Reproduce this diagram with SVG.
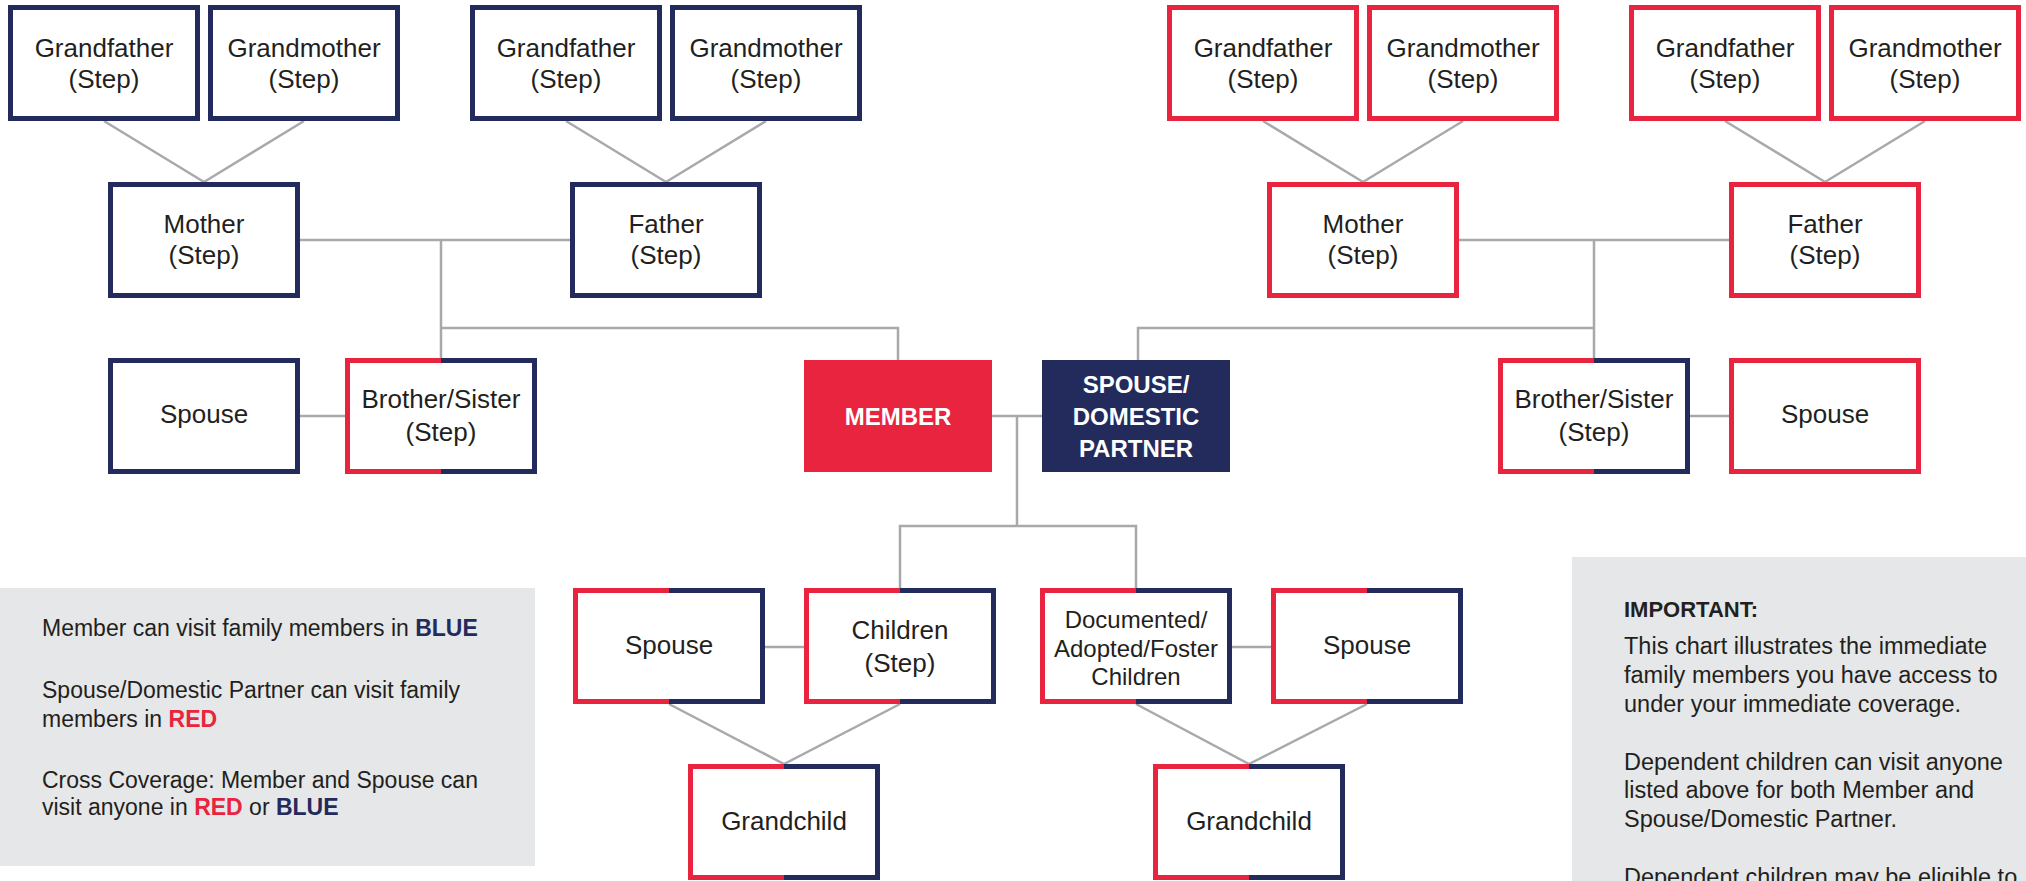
<svg xmlns="http://www.w3.org/2000/svg" width="2026" height="881" viewBox="0 0 2026 881">
<defs>
<linearGradient id="split" x1="0" y1="0" x2="1" y2="0">
<stop offset="0.5" stop-color="#E8243F"/>
<stop offset="0.5" stop-color="#232A5C"/>
</linearGradient>
<style>
.n rect{fill:#fff;stroke-width:5}
.b rect{stroke:#232A5C}
.r rect{stroke:#E8243F}
.s rect{stroke:url(#split)}
text{font-family:"Liberation Sans",Arial,sans-serif;fill:#231F20}
.n text{font-size:26px;text-anchor:middle}
.n text.sm{font-size:24px}
.f text{font-size:24px;font-weight:bold;fill:#fff;text-anchor:middle}
.lg text{font-size:23px}
#legend-right text{font-size:23.5px}
.bl{fill:#232A5C;font-weight:bold}
.rd{fill:#E8243F;font-weight:bold}
#connectors{stroke:#A7A9AC;stroke-width:2.5;fill:none}
</style>
</defs>
<rect width="2026" height="881" fill="#fff"/>
<g id="legend-left" class="lg">
<rect x="0" y="588" width="535" height="278" fill="#E6E7E8"/>
<text x="42" y="636">Member can visit family members in <tspan class="bl">BLUE</tspan></text>
<text x="42" y="698">Spouse/Domestic Partner can visit family</text>
<text x="42" y="727">members in <tspan class="rd">RED</tspan></text>
<text x="42" y="788">Cross Coverage: Member and Spouse can</text>
<text x="42" y="815">visit anyone in <tspan class="rd">RED</tspan> or <tspan class="bl">BLUE</tspan></text>
</g>
<g id="legend-right" class="lg">
<rect x="1572" y="557" width="454" height="324" fill="#E6E7E8"/>
<text x="1624" y="617" style="font-weight:bold;font-size:22px">IMPORTANT:</text>
<text x="1624" y="654">This chart illustrates the immediate</text>
<text x="1624" y="683">family members you have access to</text>
<text x="1624" y="712">under your immediate coverage.</text>
<text x="1624" y="770">Dependent children can visit anyone</text>
<text x="1624" y="798">listed above for both Member and</text>
<text x="1624" y="827">Spouse/Domestic Partner.</text>
<text x="1624" y="885">Dependent children may be eligible to</text>
</g>
<g id="connectors">
<path d="M104 121L204 182M304 121L204 182"/>
<path d="M566 121L666 182M766 121L666 182"/>
<path d="M1263 121L1363 182M1463 121L1363 182"/>
<path d="M1725 121L1825 182M1925 121L1825 182"/>
<path d="M300 240H570M441 240V358"/>
<path d="M441 328H898V360"/>
<path d="M1459 240H1729M1594 240V358"/>
<path d="M1594 328H1138V360"/>
<path d="M300 416H345"/>
<path d="M1690 416H1729"/>
<path d="M992 416H1042M1017 416V526"/>
<path d="M900 588V526H1136V588"/>
<path d="M765 647H804M1232 647H1271"/>
<path d="M669 704L784 764M900 704L784 764"/>
<path d="M1136 704L1249 764M1367 704L1249 764"/>
</g>
<g id="gf1" class="n b"><rect x="10.5" y="7.5" width="187" height="111"/><text x="104" y="57">Grandfather</text><text x="104" y="88">(Step)</text></g>
<g id="gm1" class="n b"><rect x="210.5" y="7.5" width="187" height="111"/><text x="304" y="57">Grandmother</text><text x="304" y="88">(Step)</text></g>
<g id="gf2" class="n b"><rect x="472.5" y="7.5" width="187" height="111"/><text x="566" y="57">Grandfather</text><text x="566" y="88">(Step)</text></g>
<g id="gm2" class="n b"><rect x="672.5" y="7.5" width="187" height="111"/><text x="766" y="57">Grandmother</text><text x="766" y="88">(Step)</text></g>
<g id="gf3" class="n r"><rect x="1169.5" y="7.5" width="187" height="111"/><text x="1263" y="57">Grandfather</text><text x="1263" y="88">(Step)</text></g>
<g id="gm3" class="n r"><rect x="1369.5" y="7.5" width="187" height="111"/><text x="1463" y="57">Grandmother</text><text x="1463" y="88">(Step)</text></g>
<g id="gf4" class="n r"><rect x="1631.5" y="7.5" width="187" height="111"/><text x="1725" y="57">Grandfather</text><text x="1725" y="88">(Step)</text></g>
<g id="gm4" class="n r"><rect x="1831.5" y="7.5" width="187" height="111"/><text x="1925" y="57">Grandmother</text><text x="1925" y="88">(Step)</text></g>
<g id="mother-l" class="n b"><rect x="110.5" y="184.5" width="187" height="111"/><text x="204" y="233">Mother</text><text x="204" y="264">(Step)</text></g>
<g id="father-l" class="n b"><rect x="572.5" y="184.5" width="187" height="111"/><text x="666" y="233">Father</text><text x="666" y="264">(Step)</text></g>
<g id="mother-r" class="n r"><rect x="1269.5" y="184.5" width="187" height="111"/><text x="1363" y="233">Mother</text><text x="1363" y="264">(Step)</text></g>
<g id="father-r" class="n r"><rect x="1731.5" y="184.5" width="187" height="111"/><text x="1825" y="233">Father</text><text x="1825" y="264">(Step)</text></g>
<g id="spouse-l" class="n b"><rect x="110.5" y="360.5" width="187" height="111"/><text x="204" y="423">Spouse</text></g>
<g id="sibling-l" class="n s"><rect x="347.5" y="360.5" width="187" height="111"/><text x="441" y="408">Brother/Sister</text><text x="441" y="441">(Step)</text></g>
<g id="member" class="f"><rect x="804" y="360" width="188" height="112" fill="#E8243F"/><text x="898" y="425">MEMBER</text></g>
<g id="spouse-dp" class="f"><rect x="1042" y="360" width="188" height="112" fill="#232A5C"/><text x="1136" y="393">SPOUSE/</text><text x="1136" y="425">DOMESTIC</text><text x="1136" y="457">PARTNER</text></g>
<g id="sibling-r" class="n s"><rect x="1500.5" y="360.5" width="187" height="111"/><text x="1594" y="408">Brother/Sister</text><text x="1594" y="441">(Step)</text></g>
<g id="spouse-r" class="n r"><rect x="1731.5" y="360.5" width="187" height="111"/><text x="1825" y="423">Spouse</text></g>
<g id="spouse-bl" class="n s"><rect x="575.5" y="590.5" width="187" height="111"/><text x="669" y="654">Spouse</text></g>
<g id="children" class="n s"><rect x="806.5" y="590.5" width="187" height="111"/><text x="900" y="639">Children</text><text x="900" y="672">(Step)</text></g>
<g id="documented" class="n s"><rect x="1042.5" y="590.5" width="187" height="111"/><text class="sm" x="1136" y="628">Documented/</text><text class="sm" x="1136" y="657">Adopted/Foster</text><text class="sm" x="1136" y="685">Children</text></g>
<g id="spouse-br" class="n s"><rect x="1273.5" y="590.5" width="187" height="111"/><text x="1367" y="654">Spouse</text></g>
<g id="grandchild-l" class="n s"><rect x="690.5" y="766.5" width="187" height="111"/><text x="784" y="830">Grandchild</text></g>
<g id="grandchild-r" class="n s"><rect x="1155.5" y="766.5" width="187" height="111"/><text x="1249" y="830">Grandchild</text></g>
</svg>
